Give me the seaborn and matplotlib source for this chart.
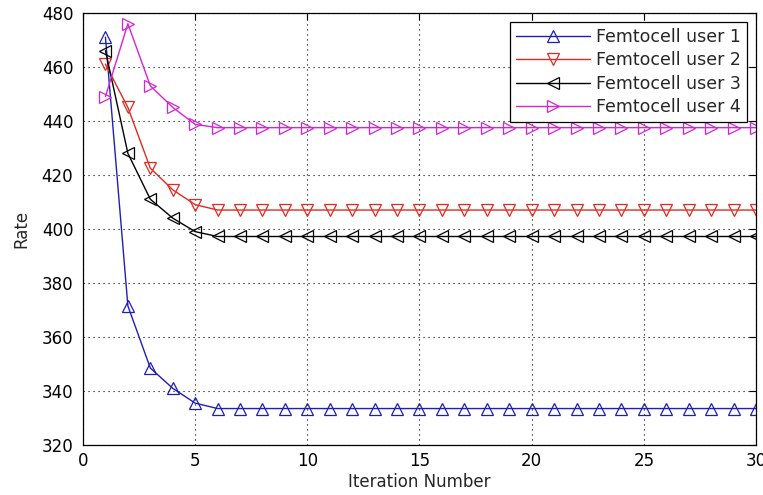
import numpy as np
import pandas as pd
import matplotlib
matplotlib.use("Agg")
import matplotlib.pyplot as plt
import seaborn as sns

# DATA
iterations = list(range(1, 31))

user1_rate = [471, 371.5, 348.5, 341, 335.5] + [333.5] * 25
user2_rate = [461, 445, 422.5, 414.5, 409] + [407] * 25
user3_rate = [466, 428, 411, 404, 399] + [397.2] * 25
user4_rate = [449, 476, 453, 445, 438.7] + [437.5] * 25

user_names = ["Femtocell user 1", "Femtocell user 2",
              "Femtocell user 3", "Femtocell user 4"]
user_rates = [user1_rate, user2_rate, user3_rate, user4_rate]
user_colors = ["#1f1fb4", "#e02a22", "#000000", "#d524d5"]
user_markers = ["^", "v", "<", ">"]

x_ticks = [0, 5, 10, 15, 20, 25, 30]
y_ticks = [320, 340, 360, 380, 400, 420, 440, 460, 480]

# STYLE
sns.set_style("white")
plt.rcParams["font.family"] = ["DejaVu Sans"]

fig = plt.figure(figsize=(7.63, 4.95), dpi=100)
ax = fig.add_axes([0.1088, 0.101, 0.8820, 0.873])

# PLOT each user with open triangle markers
for name, rate, color, marker in zip(user_names, user_rates, user_colors, user_markers):
    df = pd.DataFrame({"Iteration": iterations, "Rate": rate})
    sns.lineplot(data=df, x="Iteration", y="Rate", ax=ax, color=color,
                 marker=marker, markersize=8, markerfacecolor="none",
                 markeredgecolor=color, markeredgewidth=0.9,
                 linewidth=1.0, label=name)

ax.set_xlim(0, 30)
ax.set_ylim(320, 480)
ax.set_xticks(x_ticks)
ax.set_yticks(y_ticks)
ax.tick_params(direction="in", top=True, right=True, length=5, width=0.8,
               labelsize=12, colors="black")
ax.tick_params(axis="y", pad=7)
ax.tick_params(axis="x", pad=5)
ax.grid(True, color="black", linestyle=(0, (1, 3.5)), linewidth=0.8)
for side in ax.spines.values():
    side.set_color("black")
    side.set_linewidth(0.9)

ax.set_xlabel("Iteration Number", fontsize=12, labelpad=2)
ax.set_ylabel("Rate", fontsize=12, labelpad=8)

leg = ax.legend(loc="upper right", frameon=True, fancybox=False,
                edgecolor="black", framealpha=1, handlelength=4.3,
                handletextpad=0.35, labelspacing=0.32, borderaxespad=0.5,
                borderpad=0.35, prop={"family": "DejaVu Sans", "size": 12.5})
leg.get_frame().set_linewidth(0.9)

fig.savefig("out.png", dpi=100)
